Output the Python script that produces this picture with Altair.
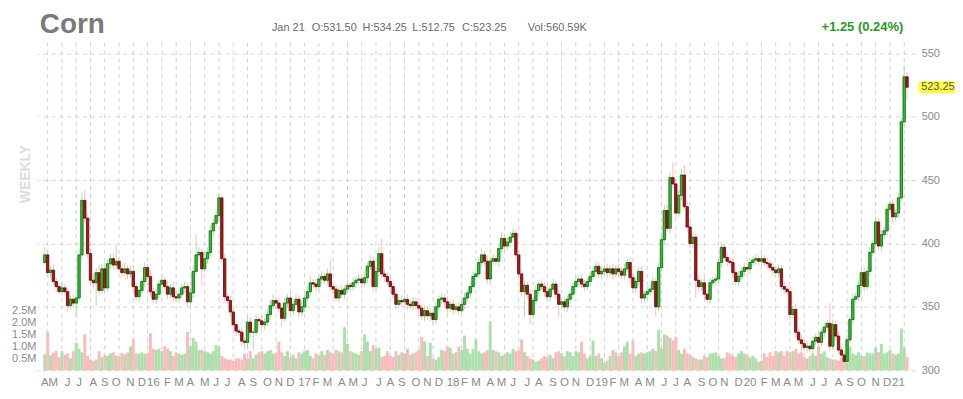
import altair as alt
import pandas as pd

# ---------------- data (weekly) ----------------
start_date = "2015-04-10"
first_open = 385.0

close = [
    391, 377, 379, 370, 366, 362, 365, 362, 351, 356,
    353, 357, 391, 434, 420, 392, 371, 369, 377, 363,
    380, 365, 384, 388, 383, 386, 380, 377, 380, 376,
    378, 366, 358, 363, 370, 381, 374, 362, 356, 360,
    368, 371, 366, 360, 365, 358, 357, 360, 365, 366,
    354, 361, 378, 391, 393, 380, 388, 393, 410, 416,
    422, 436, 388, 358, 355, 346, 336, 331, 330, 323,
    322, 338, 330, 330, 340, 339, 336, 338, 344, 351,
    355, 353, 349, 341, 353, 357, 347, 352, 356, 346,
    350, 357, 362, 369, 368, 366, 372, 374, 371, 376,
    366, 364, 357, 363, 360, 364, 367, 366, 369, 371,
    372, 369, 373, 382, 386, 366, 378, 392, 376, 374,
    370, 366, 360, 352, 355, 354, 356, 352, 351, 354,
    351, 349, 343, 347, 343, 345, 340, 350, 356, 357,
    354, 349, 352, 348, 350, 347, 352, 357, 361, 366,
    374, 376, 385, 391, 386, 372, 386, 388, 386, 396,
    404, 398, 401, 405, 408, 391, 376, 362, 367, 360,
    344, 355, 363, 368, 366, 362, 358, 364, 368, 360,
    352, 354, 350, 356, 360, 366, 370, 372, 368, 366,
    370, 374, 378, 382, 376, 378, 380, 377, 380, 376,
    380, 378, 375, 380, 385, 373, 365, 370, 378, 357,
    360, 362, 364, 370, 350, 381, 403, 426, 412, 452,
    447, 424, 438, 454, 429, 413, 400, 405, 371, 366,
    369, 360, 356, 369, 371, 372, 385, 397, 389, 386,
    385, 377, 370, 374, 378, 381, 380, 385, 387, 388,
    386, 388, 385, 384, 381, 379, 377, 380, 366, 364,
    362, 344, 348, 330, 324, 321, 318, 319, 317, 323,
    326, 322, 330, 334, 337, 319, 336, 327, 316, 312,
    307, 324, 340, 356, 358, 367, 377, 366, 378, 393,
    400, 417, 398, 407, 410, 427, 431, 421, 424, 436, 496, 531.5, 523.25,
]

upper_wick = [
    6, 4, 3, 5, 3, 2, 4, 3, 4, 3,
    4, 3, 5, 6, 8, 3, 4, 5, 4, 6,
    4, 5, 3, 4, 5, 12, 4, 3, 5, 3,
    4, 5, 3, 4, 3, 4, 3, 5, 3, 4,
    3, 4, 3, 4, 3, 5, 3, 4, 3, 4,
    3, 4, 5, 16, 4, 3, 5, 4, 4, 3,
    4, 4, 2, 4, 3, 4, 3, 4, 3, 4,
    3, 5, 4, 3, 4, 3, 4, 3, 4, 5,
    5, 3, 4, 3, 4, 3, 5, 3, 4, 3,
    4, 3, 4, 5, 3, 4, 3, 4, 3, 4,
    11, 3, 4, 3, 4, 3, 4, 3, 4, 3,
    4, 3, 4, 3, 5, 4, 3, 5, 12, 4,
    3, 4, 3, 4, 3, 4, 3, 4, 3, 4,
    3, 4, 3, 4, 3, 4, 3, 4, 3, 4,
    3, 4, 3, 4, 3, 4, 3, 4, 3, 4,
    4, 3, 4, 5, 3, 4, 3, 4, 3, 4,
    5, 3, 4, 4, 4, 3, 4, 3, 4, 3,
    4, 3, 4, 3, 4, 3, 4, 3, 4, 3,
    4, 3, 4, 3, 4, 3, 4, 3, 4, 3,
    3, 4, 3, 4, 3, 4, 3, 4, 3, 4,
    3, 4, 3, 4, 3, 4, 3, 4, 3, 4,
    3, 4, 3, 4, 3, 4, 5, 4, 5, 4,
    12, 4, 4, 5, 8, 4, 5, 4, 3, 4,
    3, 4, 3, 4, 3, 4, 4, 4, 3, 4,
    3, 4, 3, 4, 3, 4, 3, 4, 3, 4,
    3, 4, 3, 4, 3, 4, 3, 4, 3, 4,
    3, 4, 3, 4, 3, 4, 3, 4, 3, 4,
    3, 4, 3, 4, 3, 16, 4, 3, 4, 3,
    3, 4, 3, 4, 3, 4, 3, 4, 3, 4,
    3, 4, 3, 4, 3, 4, 3, 4, 3, 4, 3, 9, 2.75,
]

lower_wick = [
    2, 3, 4, 3, 4, 2, 3, 3, 4, 3,
    4, 11, 3, 4, 3, 4, 3, 5, 18, 4,
    3, 4, 3, 4, 3, 4, 3, 4, 3, 4,
    3, 4, 3, 4, 3, 4, 3, 4, 3, 4,
    3, 4, 3, 4, 3, 4, 3, 4, 3, 4,
    4, 3, 4, 3, 4, 13, 3, 4, 3, 4,
    3, 4, 3, 4, 3, 4, 3, 4, 3, 4,
    6, 3, 4, 14, 3, 4, 3, 4, 3, 4,
    3, 4, 3, 7, 3, 4, 3, 4, 3, 4,
    3, 4, 3, 4, 3, 4, 3, 4, 3, 4,
    3, 4, 3, 4, 3, 4, 3, 4, 3, 4,
    3, 4, 3, 4, 3, 4, 3, 4, 3, 4,
    3, 4, 3, 4, 3, 4, 3, 4, 3, 4,
    3, 4, 3, 4, 3, 4, 4, 4, 3, 4,
    3, 4, 3, 4, 3, 4, 3, 4, 3, 4,
    3, 4, 3, 4, 3, 4, 3, 4, 3, 4,
    3, 4, 3, 4, 3, 4, 3, 4, 20, 4,
    8, 4, 3, 4, 3, 4, 3, 4, 3, 4,
    10, 4, 3, 4, 3, 4, 3, 4, 3, 4,
    3, 4, 3, 4, 3, 4, 3, 4, 3, 4,
    3, 4, 3, 4, 3, 4, 3, 4, 3, 4,
    3, 4, 3, 4, 8, 4, 3, 4, 3, 4,
    3, 4, 3, 4, 3, 4, 3, 4, 14, 4,
    3, 4, 3, 4, 3, 4, 3, 4, 3, 4,
    3, 4, 3, 4, 3, 4, 3, 4, 3, 4,
    3, 4, 3, 4, 3, 4, 3, 4, 3, 4,
    3, 4, 3, 4, 3, 9, 3, 4, 3, 4,
    3, 4, 3, 4, 3, 4, 3, 4, 3, 4,
    3, 4, 3, 4, 3, 4, 3, 4, 3, 4,
    3, 4, 3, 4, 3, 4, 3, 4, 3, 4, 3, 4, 10.5,
]

volume_m = [
    0.67, 1.60, 0.63, 0.75, 0.82, 0.55, 0.80, 0.65, 0.70, 0.50,
    0.80, 1.15, 0.90, 0.75, 1.50, 0.60, 0.45, 0.40, 0.45, 0.80,
    0.55, 0.65, 0.60, 0.70, 0.75, 0.62, 0.58, 0.72, 0.66, 0.74,
    1.00, 1.30, 0.70, 0.70, 0.75, 0.68, 0.72, 1.55, 0.90, 0.85,
    0.90, 0.80, 1.00, 0.90, 0.80, 0.60, 0.75, 0.70, 0.65, 0.70,
    1.60, 1.00, 1.35, 1.20, 0.85, 0.85, 0.80, 0.75, 0.70, 0.80,
    1.05, 1.00, 0.60, 0.50, 0.45, 0.45, 0.40, 0.50, 0.50, 0.45,
    0.70, 0.50, 0.80, 0.50, 0.65, 0.75, 0.80, 0.70, 0.80, 0.85,
    0.70, 0.75, 1.20, 0.75, 0.60, 0.80, 0.55, 0.65, 0.50, 0.75,
    0.70, 0.80, 0.85, 0.60, 0.50, 0.70, 0.60, 0.80, 0.65, 0.85,
    0.75, 0.70, 0.85, 0.80, 0.75, 1.80, 1.10, 0.80, 0.75, 0.70,
    0.65, 0.80, 1.50, 1.20, 0.80, 1.05, 0.90, 0.95, 0.55, 0.60,
    0.80, 0.60, 0.55, 0.80, 0.65, 0.75, 0.70, 0.90, 0.65, 0.70,
    0.75, 0.85, 1.40, 1.20, 0.60, 1.15, 0.50, 0.45, 0.55, 0.85,
    0.80, 1.00, 0.95, 0.70, 0.75, 1.00, 0.85, 1.45, 0.90, 0.70,
    0.90, 1.30, 0.80, 0.70, 0.75, 0.85, 2.05, 0.85, 0.80, 0.75,
    0.60, 0.65, 0.75, 0.70, 0.90, 0.80, 0.85, 1.30, 0.75, 0.60,
    0.50, 0.45, 0.35, 0.40, 0.50, 0.60, 0.55, 0.65, 0.50, 0.75,
    0.80, 0.70, 0.60, 0.80, 0.75, 0.60, 0.80, 0.75, 1.20, 0.70,
    0.50, 0.60, 1.25, 0.60, 0.70, 0.50, 0.30, 0.40, 0.60, 0.85,
    0.75, 0.60, 0.75, 1.00, 1.20, 0.70, 1.25, 0.60, 0.70, 0.75,
    0.70, 0.75, 0.80, 0.90, 0.80, 1.70, 0.90, 1.50, 1.45, 1.35,
    1.25, 1.40, 0.85, 0.70, 0.90, 0.70, 0.65, 0.55, 0.50, 0.45,
    0.45, 0.60, 0.55, 0.70, 0.70, 0.75, 0.60, 0.50, 0.50, 0.75,
    0.70, 0.60, 0.55, 0.70, 0.80, 0.70, 0.65, 0.55, 0.60, 0.50,
    0.35, 0.40, 0.70, 0.55, 0.75, 0.60, 0.80, 0.75, 0.80, 0.60,
    0.80, 0.75, 0.80, 0.90, 0.70, 0.75, 0.55, 0.50, 0.60, 0.70,
    0.60, 1.00, 0.70, 0.80, 0.55, 0.50, 0.45, 0.45, 0.40, 0.50,
    0.55, 0.65, 1.00, 0.70, 0.65, 0.75, 0.60, 0.60, 0.75, 0.70,
    0.70, 0.95, 0.75, 1.10, 0.70, 0.75, 0.85, 0.70, 0.65, 0.70, 1.75, 0.95, 0.56,
]

price_ticks = [300, 350, 400, 450, 500, 550]
volume_ticks = [0.5, 1.0, 1.5, 2.0, 2.5]
grid_step_weeks = 5

title_text = "Corn"
date_text = "Jan 21"
ohlc_texts = ["O:531.50", "H:534.25", "L:512.75", "C:523.25"]
ohlc_x = [276, 327, 377, 427]
vol_text = "Vol:560.59K"
change_text = "+1.25 (0.24%)"
period_text = "WEEKLY"
last_price = 523.25

# ---------------- build table ----------------
n = len(close)
dates = pd.date_range(start_date, periods=n, freq="7D")
opens = [first_open] + close[:-1]
rows = []
for i in range(n):
    o, c = opens[i], close[i]
    rows.append({
        "i": i,
        "date": dates[i].strftime("%Y-%m-%d"),
        "open": o, "close": c,
        "body_lo": min(o, c), "body_hi": max(o, c),
        "high": max(o, c) + upper_wick[i],
        "low": min(o, c) - lower_wick[i],
        "vol": volume_m[i],
        "dir": "up" if c >= o else "down",
    })
df = pd.DataFrame(rows)

# month labels at first weekly bar of each month
mrows = []
for i in range(n):
    if i == 0 or dates[i].month != dates[i - 1].month:
        d = dates[i]
        lab = d.strftime("%y") if d.month == 1 else d.strftime("%b")[0]
        mrows.append({"i": i, "lab": lab})
mdf = pd.DataFrame(mrows)

gdf = pd.DataFrame({"g": list(range(1, n, grid_step_weeks))})

W, H = 882, 329
xscale = alt.Scale(domain=[-1.03, 303.1], nice=False, zero=False)
pscale = alt.Scale(domain=[300, 558.4], nice=False, zero=False)
vscale = alt.Scale(domain=[0, H / 24.0], nice=False, zero=True)

dir_dom = ["up", "down"]
fill_sc = alt.Scale(domain=dir_dom, range=["#2fc42f", "#b01515"])
stroke_sc = alt.Scale(domain=dir_dom, range=["#0b5e0b", "#5e0606"])
vol_sc = alt.Scale(domain=dir_dom, range=["#acdfac", "#f8bcbc"])

X = alt.X("i:Q", scale=xscale, axis=None)

vgrid = alt.Chart(gdf).mark_rule(color="#cfcfcf", strokeDash=[4, 4], strokeWidth=1).encode(
    x=alt.X("g:Q", scale=xscale, axis=None), y=alt.value(0), y2=alt.value(H)
)

vol_bars = alt.Chart(df).mark_bar(size=2.95).encode(
    x=X,
    y=alt.Y("vol:Q", scale=vscale, axis=alt.Axis(
        orient="left", values=volume_ticks, labelExpr="format(datum.value,'.1f') + 'M'",
        grid=False, ticks=False, domain=False, labelPadding=1, title=None,
        labelFontSize=11, labelColor="#8a8a8a")),
    color=alt.Color("dir:N", scale=vol_sc, legend=None),
)

price_axis = alt.Axis(orient="right", values=price_ticks, grid=True, gridDash=[4, 4],
                      gridColor="#d6d6d6", ticks=False, domain=False, labelPadding=6,
                      title=None, labelFontSize=11, labelColor="#8a8a8a")

wicks = alt.Chart(df).mark_rule(strokeWidth=1).encode(
    x=X,
    y=alt.Y("low:Q", scale=pscale, axis=price_axis),
    y2="high:Q",
    color=alt.Color("dir:N", scale=stroke_sc, legend=None),
)

bodies = alt.Chart(df).mark_bar(size=2.4, strokeWidth=0.8).encode(
    x=X,
    y=alt.Y("body_lo:Q", scale=pscale, axis=price_axis),
    y2="body_hi:Q",
    fill=alt.Fill("dir:N", scale=fill_sc, legend=None),
    stroke=alt.Stroke("dir:N", scale=stroke_sc, legend=None),
)

tag_df = pd.DataFrame({"p": [last_price], "t": [f"{last_price:.2f}"]})
tag_bg = alt.Chart(tag_df).mark_tick(orient="horizontal", color="#ffff3a", size=37,
                                     thickness=12, opacity=1).encode(
    x=alt.value(W + 22), y=alt.Y("p:Q", scale=pscale, axis=price_axis)
)
tag_txt = alt.Chart(tag_df).mark_text(align="left", baseline="middle", fontSize=11,
                                      color="#555555").encode(
    x=alt.value(W + 6), y=alt.Y("p:Q", scale=pscale, axis=price_axis), text="t:N"
)

price_layer = alt.layer(wicks, bodies, tag_bg, tag_txt)

month_labels = alt.Chart(mdf).mark_text(baseline="middle", fontSize=11.5,
                                        color="#8a8a8a").encode(
    x=alt.X("i:Q", scale=xscale, axis=None), y=alt.value(H + 13), text="lab:N"
)

def label(txt, x, y, **kw):
    return alt.Chart(pd.DataFrame({"t": [txt]})).mark_text(**kw).encode(
        x=alt.value(x), y=alt.value(y), text="t:N")

title = label(title_text, 3, -10, align="left", baseline="alphabetic", fontSize=28,
              fontWeight="bold", color="#7a7a7a")
hdr_date = label(date_text, 236, -12, align="left", baseline="alphabetic", fontSize=11,
                 color="#6a6a6a")
hdr_ohlc = [label(t, x, -12, align="left", baseline="alphabetic", fontSize=11,
                  color="#6a6a6a") for t, x in zip(ohlc_texts, ohlc_x)]
hdr_vol = label(vol_text, 493, -12, align="left", baseline="alphabetic", fontSize=11,
                color="#6a6a6a")
hdr_chg = label(change_text, 870, -12, align="right", baseline="alphabetic", fontSize=13,
                fontWeight="bold", color="#239a23")
weekly = label(period_text, -11, 132, align="center", baseline="middle", fontSize=14,
               fontWeight="bold", color="#dcdcdc", angle=270)

chart = alt.layer(
    vgrid, vol_bars, price_layer, month_labels,
    title, hdr_date, *hdr_ohlc, hdr_vol, hdr_chg, weekly,
).resolve_scale(y="independent").properties(
    width=W, height=H,
    padding={"left": 29, "top": 34, "right": 40, "bottom": 20},
    autosize=alt.AutoSizeParams(type="none"),
).configure(font="Liberation Sans").configure_view(stroke=None)

chart.save("out.html", embed_options={"renderer": "svg", "actions": False})
